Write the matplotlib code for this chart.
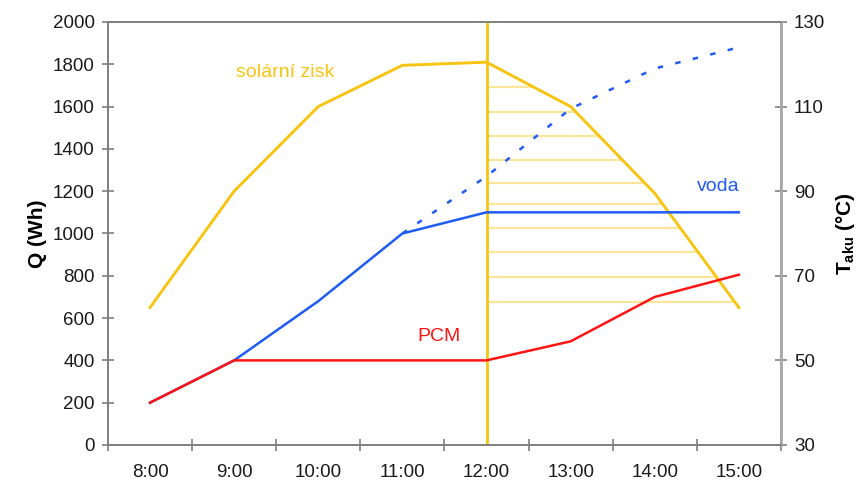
import matplotlib.pyplot as plt
import numpy as np

plt.rcParams['font.family'] = ['Liberation Sans', 'DejaVu Sans']

hours = ['8:00', '9:00', '10:00', '11:00', '12:00', '13:00', '14:00', '15:00']
solar_gain = [650, 1200, 1600, 1795, 1810, 1600, 1190, 650]
voda = [200, 400, 680, 1000, 1100, 1100, 1100, 1100]
voda_dotted = [1000, 1270, 1590, 1780, 1880]  # from 11:00 on
pcm = [200, 400, 400, 400, 400, 490, 700, 805]
hatch_levels = [676, 794, 913, 1026, 1139, 1239, 1348, 1461, 1574, 1693]

YELLOW = '#F7C511'
PALE = '#FBE59A'
BLUE = '#1F5BF5'
RED = '#FF1414'
GRAY = '#7F7F7F'
TXT = '#1A1A1A'

x = np.arange(len(hours))

fig = plt.figure(figsize=(8.61, 4.83), dpi=100)
ax = fig.add_axes([0.1254, 0.0787, 0.7816, 0.8758])

# shaded area after noon: horizontal lines up to the solar curve
after = x[4:]
sol_after = np.array(solar_gain[4:])
for lev in hatch_levels:
    xend = np.interp(lev, sol_after[::-1], after[::-1])
    ax.hlines(lev, 4, xend, color=PALE, lw=1.6, zorder=1)

ax.axvline(4, color=YELLOW, lw=2, zorder=2)
ax.plot(x, solar_gain, color=YELLOW, lw=2.1, zorder=3)
ax.plot(x, voda, color=BLUE, lw=1.8, zorder=3)
ax.plot(x[3:], voda_dotted, color=BLUE, lw=1.8, dashes=(2.2, 5), zorder=3)
ax.plot(x, pcm, color=RED, lw=1.8, zorder=4)

ax.text(1.61, 1763, 'solární zisk', color=YELLOW, fontsize=14, ha='center', va='center')
ax.text(6.75, 1220, 'voda', color=BLUE, fontsize=14, ha='center', va='center')
ax.text(3.43, 511, 'PCM', color=RED, fontsize=14, ha='center', va='center')

ax.set_xlim(-0.5, 7.5)
ax.set_ylim(0, 2000)
ax.set_yticks(range(0, 2001, 200))
ax.set_xticks(x)
ax.set_xticklabels(hours)
ax.set_xticks(np.arange(-0.5, 7.6, 1), minor=True)
ax.tick_params(axis='x', which='major', length=0, pad=14, labelsize=13.5, labelcolor=TXT)
ax.tick_params(axis='x', which='minor', direction='inout', length=9, color=GRAY, width=1.2)
ax.tick_params(axis='y', direction='inout', length=9, color=GRAY, width=1.2, labelsize=13.5,
               labelcolor=TXT, pad=5)
ax.set_ylabel('Q (Wh)', fontsize=15, fontweight='bold', labelpad=4)

ax2 = ax.twinx()
ax2.set_ylim(30, 130)
ax2.set_yticks(range(30, 131, 20))
ax2.tick_params(axis='y', direction='inout', length=9, color=GRAY, width=1.2, labelsize=13.5,
                labelcolor=TXT, pad=5)
ax2.set_ylabel('T$_{\\mathregular{aku}}$ (°C)', fontsize=15, fontweight='bold', labelpad=6)

for a in (ax, ax2):
    for s in a.spines.values():
        s.set_color(GRAY)
        s.set_linewidth(1.2)
ax2.spines['right'].set_color('#A8A8A8')
ax2.spines['right'].set_linewidth(2)

plt.savefig('out.png', dpi=100)
